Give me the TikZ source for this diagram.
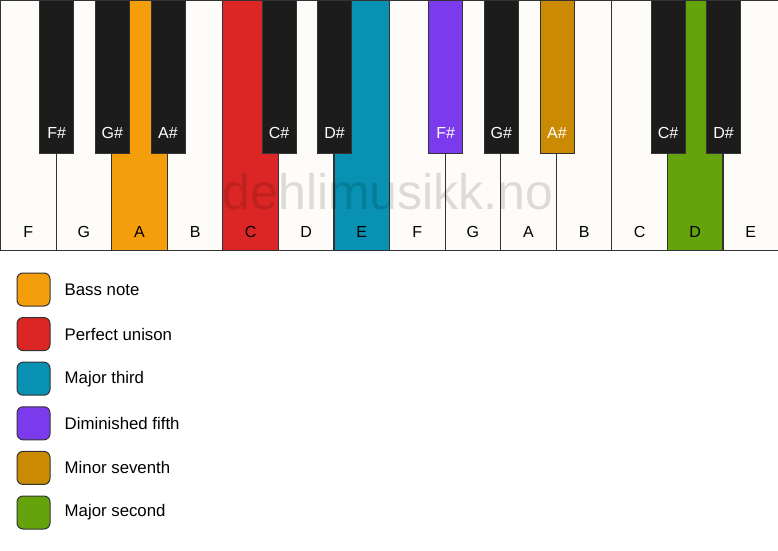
\documentclass[tikz,border=0pt]{standalone}
\usepackage{fontspec}
\setmainfont{Liberation Sans}
\usetikzlibrary{positioning}

\definecolor{keywhite}{HTML}{FDFCF9}
\definecolor{keyblack}{HTML}{1C1C1C}
\definecolor{keyline}{HTML}{333333}
\definecolor{bassc}{HTML}{F59E0B}
\definecolor{unisonc}{HTML}{DC2626}
\definecolor{thirdc}{HTML}{0891B2}
\definecolor{fifthc}{HTML}{7C3AED}
\definecolor{seventhc}{HTML}{CA8A04}
\definecolor{secondc}{HTML}{65A30D}

\begin{document}
\begin{tikzpicture}[
        x=1pt, y=1pt,
        whitekey/.style={rectangle, draw=keyline, line width=1.2pt, minimum width=55.57pt, minimum height=250pt, anchor=north west, inner sep=0pt},
        blackkey/.style={rectangle, draw=keyline, line width=0.8pt, minimum width=34pt, minimum height=153pt, anchor=north, inner sep=0pt},
        keyname/.style={font=\fontsize{16}{19}\selectfont, inner sep=0pt, anchor=base},
        swatch/.style={rectangle, rounded corners=6pt, draw=keyline, line width=1pt, minimum size=33pt, inner sep=0pt},
        legendtext/.style={font=\fontsize{16.8}{20}\selectfont, anchor=west, inner sep=0pt}
    ]
    
    \useasboundingbox (0,0) rectangle (778,550);
    
    % --- White keys ---
    \foreach \n/\c [count=\i from 0] in {F/keywhite, G/keywhite, A/bassc, B/keywhite, C/unisonc, D/keywhite, E/thirdc,
                                         F/keywhite, G/keywhite, A/keywhite, B/keywhite, C/keywhite, D/secondc, E/keywhite} {
        \node[whitekey, fill=\c] (w\i) at (\i*55.57, 550) {};
        \node[keyname] at ([yshift=14pt]w\i.south) {\n};
    }
    
    % Watermark
    \node[font=\fontsize{50}{60}\selectfont, text=black, text opacity=0.13, inner sep=0pt] (mark) at (388, 358) {dehlimusikk.no};
    
    % --- Black keys ---
    \foreach \n/\c/\k in {F/keyblack/0, G/keyblack/1, A/keyblack/2, C/keyblack/4, D/keyblack/5,
                          F/fifthc/7, G/keyblack/8, A/seventhc/9, C/keyblack/11, D/keyblack/12} {
        \node[blackkey, fill=\c] (b\k) at (w\k.north east) {};
        \node[keyname, text=white] at ([yshift=15pt]b\k.south) {\n\#};
    }
    
    % --- Legend ---
    \node[swatch, fill=bassc] (s1) at (33.5, 260.5) {};
    \node[swatch, fill=unisonc, below=10.6pt of s1] (s2) {};
    \node[swatch, fill=thirdc, below=10.6pt of s2] (s3) {};
    \node[swatch, fill=fifthc, below=10.6pt of s3] (s4) {};
    \node[swatch, fill=seventhc, below=10.6pt of s4] (s5) {};
    \node[swatch, fill=secondc, below=10.6pt of s5] (s6) {};
    
    \node[legendtext] at ([xshift=14pt]s1.east) {Bass note};
    \node[legendtext] at ([xshift=14pt]s2.east) {Perfect unison};
    \node[legendtext] at ([xshift=14pt]s3.east) {Major third};
    \node[legendtext] at ([xshift=14pt]s4.east) {Diminished fifth};
    \node[legendtext] at ([xshift=14pt]s5.east) {Minor seventh};
    \node[legendtext] at ([xshift=14pt]s6.east) {Major second};
    
\end{tikzpicture}
\end{document}
